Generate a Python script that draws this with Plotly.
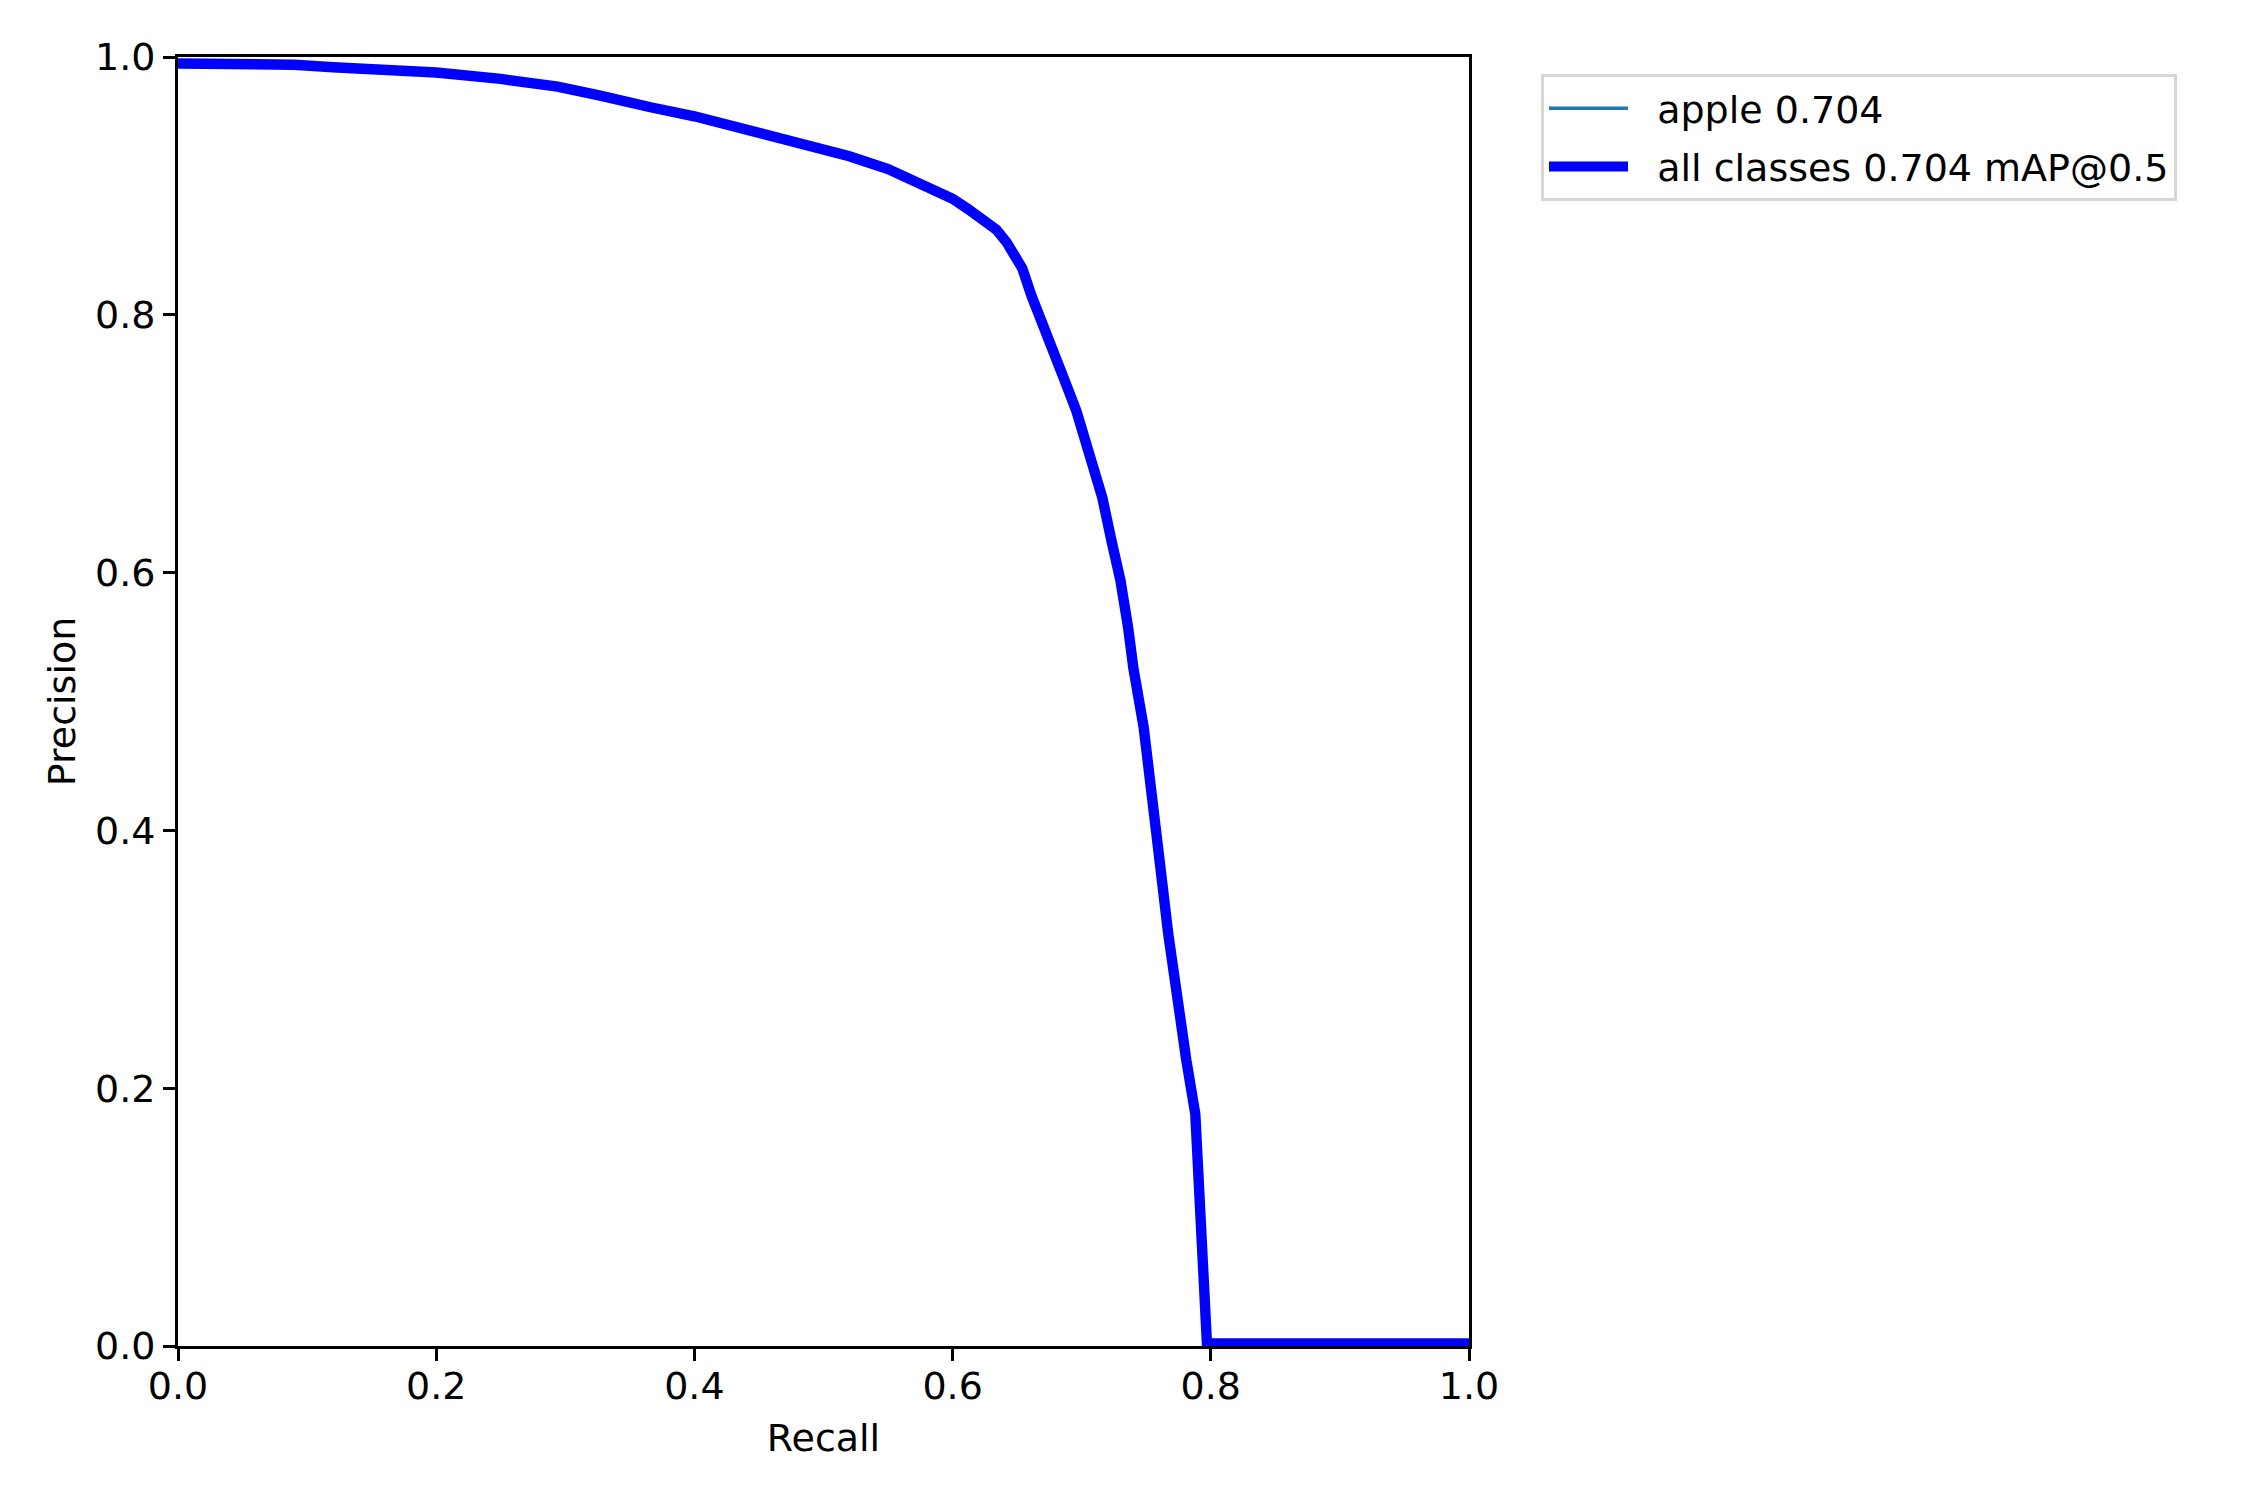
import plotly.graph_objects as go

recall = [0.0, 0.06, 0.09, 0.12, 0.15, 0.20, 0.25, 0.294, 0.327, 0.357, 0.366, 0.40,
          0.45, 0.48, 0.52, 0.55, 0.585, 0.60, 0.612, 0.624, 0.634, 0.642, 0.648,
          0.654, 0.661, 0.673, 0.686, 0.696, 0.706, 0.716, 0.723, 0.730, 0.736,
          0.740, 0.748, 0.754, 0.761, 0.767, 0.774, 0.781, 0.788, 0.792, 0.797, 1.0]
precision = [0.995, 0.995, 0.994, 0.992, 0.991, 0.988, 0.983, 0.977, 0.970, 0.962,
             0.961, 0.954, 0.941, 0.934, 0.923, 0.913, 0.898, 0.890, 0.882, 0.874,
             0.866, 0.856, 0.847, 0.836, 0.815, 0.786, 0.751, 0.725, 0.694, 0.658,
             0.625, 0.594, 0.557, 0.526, 0.480, 0.423, 0.371, 0.320, 0.268, 0.222,
             0.180, 0.100, 0.002, 0.002]

class_names = ["apple 0.704", "all classes 0.704 mAP@0.5"]
tick_vals = [0.0, 0.2, 0.4, 0.6, 0.8, 1.0]

FONT = "DejaVu Sans"
FS = 38
W, H = 2242, 1492          # page body adds an 8px margin
PW, PH = 1291, 1289        # plot-area size
L, T = 170, 49

fig = go.Figure()
fig.add_trace(go.Scatter(x=recall, y=precision, mode="lines",
                         name="\u00a0\u00a0" + class_names[0], legendgroup="a",
                         line=dict(color="#1f77b4", width=3.5)))
fig.add_trace(go.Scatter(x=recall, y=precision, mode="lines",
                         name="\u00a0\u00a0" + class_names[1], legendgroup="b",
                         line=dict(color="#0000ff", width=10.4)))

axis_common = dict(range=[0, 1], tickvals=tick_vals, tickformat=".1f",
                   showline=True, linecolor="black", linewidth=2.8, mirror=True,
                   ticks="outside", ticklen=12, tickwidth=2.8, tickcolor="black",
                   showgrid=False, zeroline=False,
                   tickfont=dict(family=FONT, size=FS, color="black"))

fig.update_layout(
    width=W, height=H,
    margin=dict(l=L, r=W - L - PW, t=T, b=H - T - PH, pad=0),
    paper_bgcolor="white", plot_bgcolor="white",
    font=dict(family=FONT, size=FS, color="black"),
    xaxis=dict(title=dict(text="Recall", font=dict(family=FONT, size=FS, color="black"), standoff=18),
               ticklabelstandoff=-8, **axis_common),
    yaxis=dict(title=dict(text="Precision", font=dict(family=FONT, size=FS, color="black"), standoff=8),
               **axis_common),
    legend=dict(x=(1533 - L) / PW, y=1 - (66 - T) / PH, xanchor="left", yanchor="top",
                bordercolor="#d6d6d6", borderwidth=3, bgcolor="white",
                font=dict(family=FONT, size=FS, color="black"), itemwidth=79,
                tracegroupgap=6),
    showlegend=True,
)

fig.write_html("out.html")
